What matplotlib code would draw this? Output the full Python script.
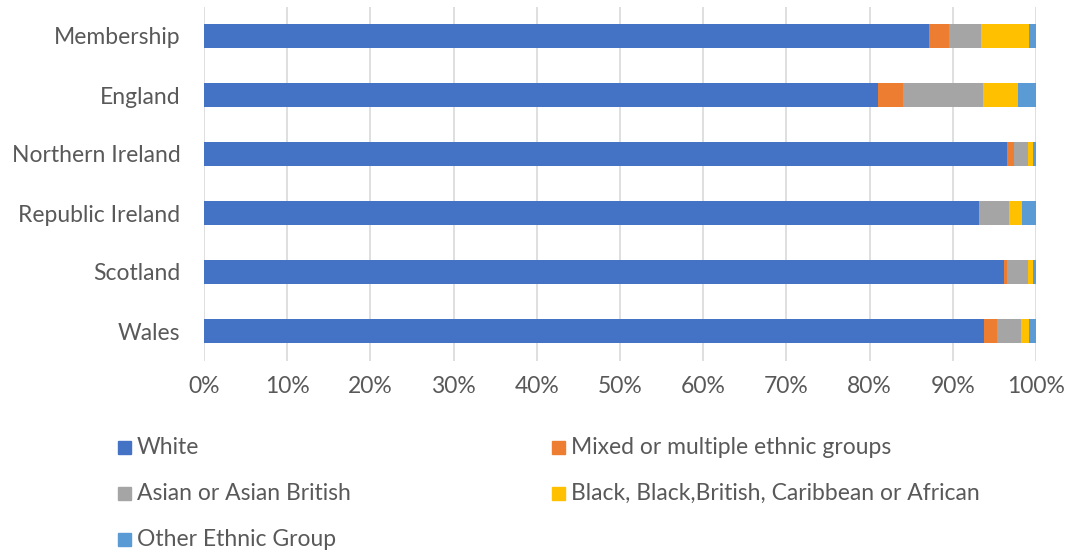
import matplotlib
matplotlib.use("Agg")
import matplotlib.pyplot as plt
from matplotlib.patches import Rectangle
from matplotlib.ticker import PercentFormatter
import numpy as np

regions = ["Membership", "England", "Northern Ireland", "Republic Ireland", "Scotland", "Wales"]
groups = ["White", "Mixed or multiple ethnic groups", "Asian or Asian British",
          "Black, Black,British, Caribbean or African", "Other Ethnic Group"]

white = [87.1, 81.0, 96.5, 93.2, 96.1, 93.7]
mixed = [2.5, 3.0, 0.8, 0.0, 0.4, 1.6]
asian = [3.8, 9.6, 1.7, 3.5, 2.5, 2.9]
black = [5.8, 4.2, 0.6, 1.6, 0.6, 0.9]
other = [0.8, 2.2, 0.4, 1.7, 0.4, 0.9]

colors = ["#4472C4", "#ED7D31", "#A5A5A5", "#FFC000", "#5B9BD5"]
text_color = "#595959"
font = "Lato"
fsize = 16.5

plt.rcParams["font.family"] = font

fig = plt.figure(figsize=(10.7, 5.54), dpi=100)
ax = fig.add_axes([204 / 1070, 1 - 360.5 / 554, 832 / 1070, 354 / 554])

y = np.arange(len(regions))
left = np.zeros(len(regions))
for vals, col, name in zip([white, mixed, asian, black, other], colors, groups):
    vals = np.array(vals)
    ax.barh(y, vals, left=left, height=0.41, color=col, label=name, zorder=3)
    left += vals

ax.set_xlim(0, 100)
ax.set_ylim(len(regions) - 0.5, -0.5)
ax.set_yticks(y)
ax.set_yticklabels(regions)
ax.set_xticks(np.arange(0, 101, 10))
ax.xaxis.set_major_formatter(PercentFormatter(decimals=0))
ax.grid(axis="x", color="#D9D9D9", linewidth=1.2, zorder=0)
for s in ax.spines.values():
    s.set_visible(False)
ax.tick_params(axis="both", length=0, labelsize=fsize, colors=text_color)
ax.tick_params(axis="y", pad=17)
ax.tick_params(axis="x", pad=11)

# legend laid out in two columns below the plot
legend_slots = [(118, 447), (552, 447), (118, 493), (552, 493), (118, 539)]
for (px, py), col, name in zip(legend_slots, colors, groups):
    fig.patches.append(Rectangle((px / 1070, 1 - (py + 6.5) / 554), 13 / 1070, 13 / 554,
                                 transform=fig.transFigure, color=col, figure=fig))
    fig.text((px + 19) / 1070, 1 - py / 554, name, fontsize=fsize, color=text_color,
             va="center", ha="left")

fig.savefig("out.png", dpi=100)
